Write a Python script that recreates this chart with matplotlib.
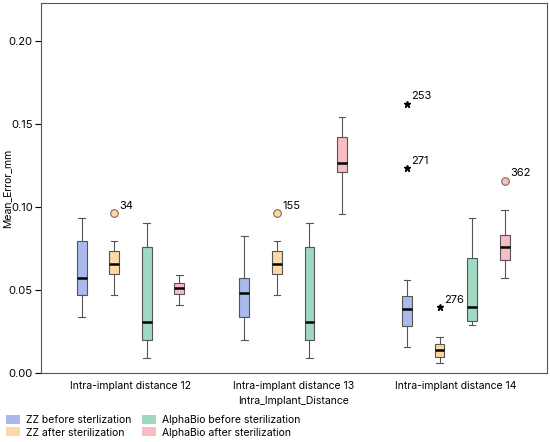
import matplotlib
matplotlib.use('Agg')
import matplotlib.pyplot as plt
from matplotlib.patches import Patch

plt.rcParams['font.family'] = ['Inter', 'DejaVu Sans']

groups = ['Intra-implant distance 12', 'Intra-implant distance 13', 'Intra-implant distance 14']
series = ['ZZ before sterlization', 'ZZ after sterilization',
          'AlphaBio before sterilization', 'AlphaBio after sterilization']
colors = ['#a9b9ec', '#fcd8a8', '#9fd9c1', '#f8bcc4']

# per series: one entry per group -> (low whisker, q1, median, q3, high whisker)
zz_before = [(0.0339, 0.047, 0.057, 0.0793, 0.0932),
             (0.0197, 0.0337, 0.0484, 0.0574, 0.0825),
             (0.0159, 0.0285, 0.0386, 0.0462, 0.056)]
zz_after = [(0.047, 0.0598, 0.0655, 0.0733, 0.0795),
            (0.047, 0.0600, 0.0655, 0.0733, 0.0795),
            (0.0058, 0.0094, 0.0139, 0.0173, 0.0219)]
ab_before = [(0.0088, 0.0197, 0.0309, 0.0761, 0.0906),
             (0.0088, 0.0197, 0.0310, 0.0760, 0.0906),
             (0.0289, 0.0315, 0.0400, 0.0695, 0.0932)]
ab_after = [(0.041, 0.0476, 0.051, 0.0544, 0.059),
            (0.096, 0.1209, 0.1267, 0.1424, 0.1544),
            (0.0572, 0.0679, 0.0761, 0.0833, 0.0982)]
all_stats = [zz_before, zz_after, ab_before, ab_after]

# outliers: (group, series, value, label)
circle_out = [(0, 1, 0.0962, '34'), (1, 1, 0.0962, '155'), (2, 3, 0.116, '362')]
star_out = [(2, 0, 0.1624, '253'), (2, 0, 0.1235, '271'), (2, 1, 0.040, '276')]

offsets = [-0.3, -0.1, 0.1, 0.3]

fig = plt.figure(figsize=(5.5, 4.42), dpi=100)
ax = fig.add_axes([0.0745, 0.156, 0.92, 0.837])

for s, st in enumerate(all_stats):
    bx = []
    for g, (lo, q1, med, q3, hi) in enumerate(st):
        bx.append(dict(whislo=lo, q1=q1, med=med, q3=q3, whishi=hi, fliers=[]))
    pos = [g + offsets[s] for g in range(len(groups))]
    ax.bxp(bx, positions=pos, widths=0.06, patch_artist=True, showfliers=False,
           boxprops=dict(facecolor=colors[s], edgecolor='#555555', linewidth=0.8),
           whiskerprops=dict(color='#555555', linewidth=0.8),
           capprops=dict(color='#555555', linewidth=0.8),
           medianprops=dict(color='black', linewidth=1.8),
           capwidths=0.04)

for g, s, v, lab in circle_out:
    x = g + offsets[s]
    ax.plot(x, v, 'o', ms=5.5, mfc=colors[s], mec='#8a6a50', mew=0.8)
    ax.annotate(lab, (x, v), xytext=(4, 3), textcoords='offset points', fontsize=8)
for g, s, v, lab in star_out:
    x = g + offsets[s]
    ax.plot(x, v, '*', ms=5, color='black')
    ax.annotate(lab, (x, v), xytext=(3, 3), textcoords='offset points', fontsize=8)

ax.set_xlim(-0.55, 2.56)
ax.set_ylim(0, 0.223)
ax.set_yticks([0.0, 0.05, 0.10, 0.15, 0.20])
ax.set_yticklabels(['0.00', '0.05', '0.10', '0.15', '0.20'])
ax.set_xticks(range(len(groups)))
ax.set_xticklabels(groups)
ax.tick_params(axis='x', length=0, labelsize=7.5, pad=6)
ax.tick_params(axis='y', labelsize=8, length=4, pad=2)
ax.set_xlabel('Intra_Implant_Distance', fontsize=7.5, labelpad=3)
ax.set_ylabel('Mean_Error_mm', fontsize=7.5)
ax.yaxis.set_label_coords(-0.057, 0.5)
for sp in ax.spines.values():
    sp.set_color('#555555')

handles = [Patch(facecolor=c, edgecolor='none') for c in colors]
fig.legend(handles, series, loc='upper left', bbox_to_anchor=(-0.002, 0.078), ncol=2,
           frameon=False, fontsize=7.5, handlelength=1.35, handleheight=0.95,
           handletextpad=0.55, columnspacing=1.0, labelspacing=0.25, borderpad=0.2)

fig.savefig('out.png', dpi=100)
